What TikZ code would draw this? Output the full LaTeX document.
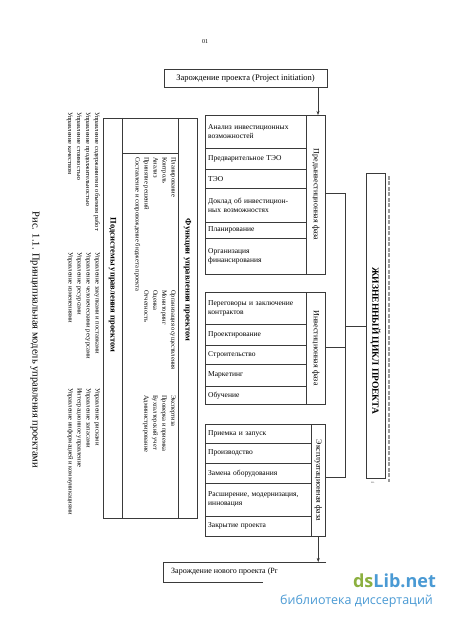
\documentclass[tikz,border=0pt]{standalone}
\usepackage{fontspec}
\setmainfont{Liberation Serif}
\newfontfamily\wmfont{Open Sans}
\usepackage{xcolor}
\usepackage{tikz}
\usetikzlibrary{arrows.meta,positioning}
\definecolor{wmgreen}{HTML}{8CB040}
\definecolor{wmblue}{HTML}{4A9AD4}
\definecolor{inkgray}{HTML}{3A3A3A}
\tikzset{
  stagenode/.style={draw=inkgray,line width=0.45pt,rectangle,anchor=north west,inner xsep=3pt,inner ysep=1pt,align=left,font=\fontsize{7.5}{9}\selectfont},
  prenode/.style={stagenode,minimum width=101pt,text width=95pt},
  explnode/.style={stagenode,minimum width=106pt,text width=100pt},
  phasebox/.style={draw=inkgray,line width=0.45pt,rectangle,anchor=north west,inner sep=0pt},
  phaselabel/.style={rotate=-90,inner sep=0pt,font=\fontsize{8}{9}\selectfont},
  lifelabel/.style={rotate=-90,inner sep=0pt,font=\bfseries\fontsize{9.5}{10}\selectfont},
  startbox/.style={draw=inkgray,line width=0.45pt,rectangle,minimum width=163pt,minimum height=18pt,inner sep=1pt,font=\fontsize{8.5}{9}\selectfont},
  headtext/.style={rotate=-90,inner sep=0pt,font=\bfseries\fontsize{8.5}{9}\selectfont},
  listtext/.style={rotate=-90,anchor=north west,inner sep=0pt,align=left,font=\fontsize{6.5}{9}\selectfont},
  flowedge/.style={-{Stealth[length=4pt,width=3pt]},line width=0.45pt,inkgray},
  linkedge/.style={line width=0.45pt,inkgray},
  shadowline/.style={line width=1.3pt,black!40,dash pattern=on 4pt off 1.5pt},
}

\begin{document}
\begin{tikzpicture}[x=1pt,y=-1pt]
  \fill[white] (0,0) rectangle (450,620);
  \useasboundingbox (0,0) rectangle (450,620);
  \node[font=\fontsize{6}{7}\selectfont] (pnum) at (205,42) {01};
  \node[startbox] (startbox) at (245.5,78) {Зарождение проекта (Project initiation)};
  % pre-investment phase
  \node[prenode,minimum height=33pt] (pre1) at (205,115) {Анализ инвестиционных\\возможностей};
  \node[prenode,minimum height=21pt] (pre2) at (205,148) {Предварительное ТЭО};
  \node[prenode,minimum height=19pt] (pre3) at (205,169) {ТЭО};
  \node[prenode,minimum height=34pt] (pre4) at (205,188) {Доклад об инвестицион-\\ных возможностях};
  \node[prenode,minimum height=16pt] (pre5) at (205,222) {Планирование};
  \node[prenode,minimum height=36pt] (pre6) at (205,238) {Организация\\финансирования};
  \node[phasebox,minimum width=19pt,minimum height=159pt] (prephase) at (306,115) {};
  \node[phaselabel] (prelabel) at (prephase.center) {Предынвестиционная фаза};
  % investment phase
  \node[prenode,minimum height=32pt] (inv1) at (205,292) {Переговоры и заключение\\контрактов};
  \node[prenode,minimum height=21pt] (inv2) at (205,324) {Проектирование};
  \node[prenode,minimum height=19pt] (inv3) at (205,345) {Строительство};
  \node[prenode,minimum height=22pt] (inv4) at (205,364) {Маркетинг};
  \node[prenode,minimum height=18pt] (inv5) at (205,386) {Обучение};
  \node[phasebox,minimum width=19pt,minimum height=112pt] (invphase) at (306,292) {};
  \node[phaselabel] (invlabel) at (invphase.center) {Инвестиционная фаза};
  % operation phase
  \node[explnode,minimum height=19pt] (exp1) at (205,424) {Приемка и запуск};
  \node[explnode,minimum height=20pt] (exp2) at (205,443) {Производство};
  \node[explnode,minimum height=20pt] (exp3) at (205,463) {Замена оборудования};
  \node[explnode,minimum height=33pt] (exp4) at (205,483) {Расширение, модернизация,\\инновация};
  \node[explnode,minimum height=20pt] (exp5) at (205,516) {Закрытие проекта};
  \node[phasebox,minimum width=14pt,minimum height=112pt] (explphase) at (311,424) {};
  \node[phaselabel] (expllabel) at (explphase.center) {Эксплуатационная фаза};
  % life cycle
  \node[phasebox,minimum width=19pt,minimum height=305pt] (lifebox) at (366,173) {};
  \node[lifelabel] (lifetext) at (375.5,341) {ЖИЗНЕННЫЙ ЦИКЛ ПРОЕКТА};
  \coordinate (shadetop) at (389,176);
  \coordinate (shadebot) at (389,482);
  \draw[shadowline] (shadetop) -- (shadebot);
  \node[font=\fontsize{3}{3}\selectfont,black!60] (lifemark) at (373,483) {вн.};
  % links
  \coordinate (drop) at (318,100);
  \coordinate (bus1) at (345,193);
  \coordinate (bus2) at (345,347);
  \coordinate (bus3) at (345,477);
  \coordinate (busmid) at (345,326);
  \draw[flowedge] (startbox.south -| drop) -- (prephase.north -| drop);
  \draw[linkedge] (prephase.east |- bus1) -- (bus1) -- (bus3) -- (explphase.east |- bus3);
  \draw[linkedge] (invphase.east |- bus2) -- (bus2);
  \draw[linkedge] (busmid) -- (lifebox.west |- busmid);
  % next project
  \coordinate (nbA) at (326,562);
  \coordinate (nbB) at (163,562);
  \coordinate (nbC) at (163,582);
  \coordinate (nbD) at (263,582);
  \draw[flowedge] (explphase.south) -- (explphase.south |- nbA);
  \draw[linkedge] (nbA) -- (nbB) -- (nbC) -- (nbD);
  \node[anchor=west,inner sep=0pt,font=\fontsize{8}{9}\selectfont] (newtext) at (171,572) {Зарождение нового проекта (Pr};
  % management panel
  \node[phasebox,minimum width=94pt,minimum height=400pt] (funcpanel) at (103,118) {};
  \draw[linkedge] (122,118) -- (122,518);
  \draw[linkedge] (178,118) -- (178,518);
  \draw[linkedge] (122,153) -- (178,153);
  \node[headtext] (funchead) at (187.5,280) {Функции управления проектом};
  \node[headtext] (subhead) at (112.5,285) {Подсистемы управления проектом};
  \node[listtext] (func1) at (176,157) {Планирование\\Контроль\\Анализ\\Принятие решений\\Составление и сопровождение бюджета проекта};
  \node[listtext] (func2) at (176,290) {Организация осуществления\\Мониторинг\\Оценка\\Отчетность};
  \node[listtext] (func3) at (176,395) {Экспертиза\\Проверка и приемка\\Бухгалтерский учет\\Администрирование};
  \node[listtext] (sub1) at (100,112) {Управление содержанием и объемом работ\\Управление продолжительностью\\Управление стоимостью\\Управление качеством};
  \node[listtext] (sub2) at (100,252) {Управление закупками и поставками\\Управление человеческими ресурсами\\Управление ресурсами\\Управление изменениями};
  \node[listtext] (sub3) at (100,388) {Управление рисками\\Управление запасами\\Интеграционное управление\\Управление информацией и коммуникациями};
  \node[rotate=-90,inner sep=0pt,font=\fontsize{10.5}{12}\selectfont] (caption) at (35,340) {Рис. 1.1. Принципиальная модель управления проектами};
  % watermark
  \node[inner sep=0pt,font=\wmfont\bfseries\fontsize{18}{20}\selectfont] (wmlogo) at (394.5,581) {\textcolor{wmgreen}{ds}\textcolor{wmblue}{Lib.net}};
  \node[inner sep=0pt,wmblue,font=\wmfont\fontsize{12.5}{14}\selectfont] (wmsub) at (356.5,601) {библиотека диссертаций};
\end{tikzpicture}
\end{document}
